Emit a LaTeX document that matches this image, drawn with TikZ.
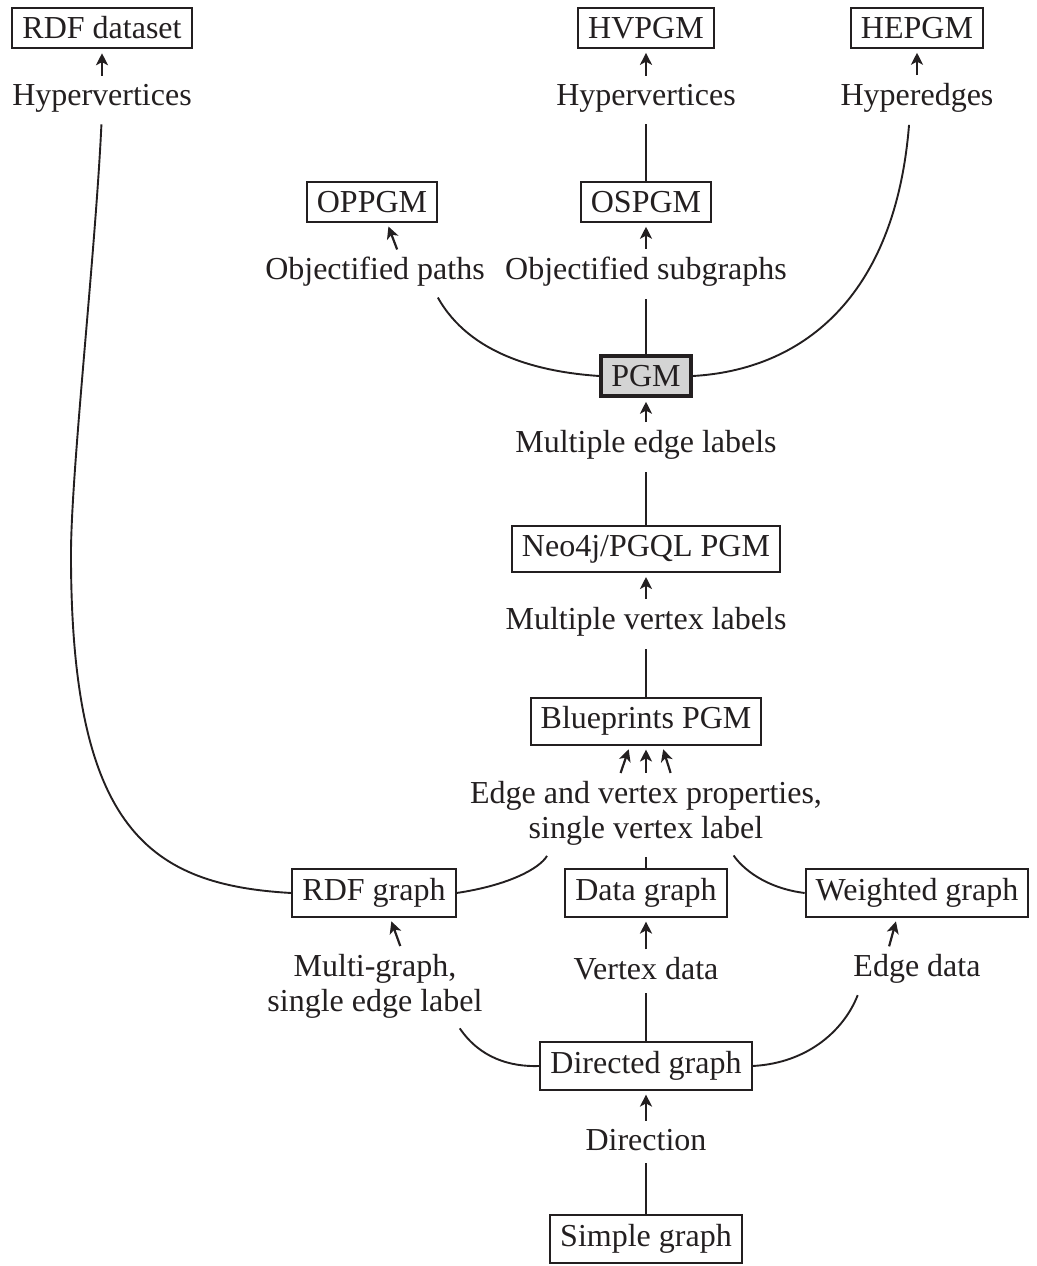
\documentclass[tikz,border=0pt]{standalone}
\usepackage{fontspec}
\setmainfont{Liberation Serif}
\usetikzlibrary{arrows.meta}
\definecolor{ink}{HTML}{231F20}
\definecolor{boxgray}{HTML}{D4D4D4}
\begin{document}
\begin{tikzpicture}[x=0.5pt,y=-0.5pt,
  every node/.style={font=\fontsize{16}{17.5}\selectfont, text=ink},
  box/.style={draw=ink, line width=1pt, inner xsep=5pt, inner ysep=4.5pt},
  mainbox/.style={box, line width=2pt, fill=boxgray},
  lab/.style={inner sep=0pt, align=center},
  link/.style={draw=ink, line width=0.95pt, shorten >=6pt},
  up/.style={draw=ink, line width=1.1pt, -{Stealth[length=6pt,width=6pt,inset=1.6pt]},
             shorten <=4pt, shorten >=2pt}]
\useasboundingbox (0,0) rectangle (1037,1266);

% models (boxes) and the features that lead to them (labels)
\node[box] (rdfds) at (102,28) {RDF dataset};
\node[box] (hvpgm) at (646,28) {HVPGM};
\node[box] (hepgm) at (917,28) {HEPGM};
\node[lab] (hv1) at (102,98) {Hypervertices};
\node[lab] (hv2) at (646,98) {Hypervertices};
\node[lab] (he) at (917,98) {Hyperedges};
\node[box] (oppgm) at (372,202) {OPPGM};
\node[box] (ospgm) at (646,202) {OSPGM};
\node[lab] (op) at (375,272) {Objectified paths};
\node[lab] (os) at (646,272) {Objectified subgraphs};
\node[mainbox] (pgm) at (646,376) {PGM};
\node[lab] (mel) at (646,445) {Multiple edge labels};
\node[box] (neo) at (646,549) {Neo4j/PGQL PGM};
\node[lab] (mvl) at (646,622) {Multiple vertex labels};
\node[box] (bp) at (646,721) {Blueprints PGM};
\node[lab] (evp) at (646,813) {Edge and vertex properties,\\single vertex label};
\node[box] (rdfg) at (374,893) {RDF graph};
\node[box] (datag) at (646,893) {Data graph};
\node[box] (wg) at (917,893) {Weighted graph};
\node[lab] (mg) at (375,986) {Multi-graph,\\single edge label};
\node[lab] (vd) at (646,969) {Vertex data};
\node[lab] (ed) at (917,969) {Edge data};
\node[box] (dg) at (646,1066) {Directed graph};
\node[lab] (dir) at (646,1140) {Direction};
\node[box] (sg) at (646,1239) {Simple graph};

% short arrows from a feature up to the model it yields
\draw[up] (hv1.north) -- (rdfds.south);
\draw[up] (hv2.north) -- (hvpgm.south);
\draw[up] (he.north) -- (hepgm.south);
\draw[up] ([xshift=12.5pt]op.north) -- ([xshift=7.5pt]oppgm.south);
\draw[up] (os.north) -- (ospgm.south);
\draw[up] (mel.north) -- (pgm.south);
\draw[up] (mvl.north) -- (neo.south);
\draw[up] ([xshift=-14pt]evp.north) -- ([xshift=-8pt]bp.south);
\draw[up] (evp.north) -- (bp.south);
\draw[up] ([xshift=13.5pt]evp.north) -- ([xshift=8pt]bp.south);
\draw[up] ([xshift=14pt]mg.north) -- ([xshift=8pt]rdfg.south);
\draw[up] (vd.north) -- (datag.south);
\draw[up] ([xshift=-15pt]ed.north) -- ([xshift=-10pt]wg.south);
\draw[up] (dir.north) -- (dg.south);

% lines from a model up to the features added on top of it
\draw[link] (sg.north) -- (dir.south);
\draw[link] (dg.north) -- (vd.south);
\draw[link] (dg.west) .. controls (510,1067) and (480,1058) .. ([xshift=39pt]mg.south);
\draw[link] (dg.east) .. controls (810,1063) and (845,1028) .. ([xshift=-27.5pt]ed.south);
\draw[link] (datag.north) -- (evp.south);
\draw[link] (rdfg.east) .. controls (510,885) and (540,868) .. ([xshift=-46.5pt]evp.south);
\draw[link] (wg.west) .. controls (765,888) and (742,868) .. ([xshift=40.5pt]evp.south);
\draw[link] (bp.north) -- (mvl.south);
\draw[link] (neo.north) -- (mel.south);
\draw[link] (pgm.west) .. controls (540,372) and (470,355) .. ([xshift=28.5pt]op.south);
\draw[link] (pgm.north) -- (os.south);
\draw[link] (pgm.east) .. controls (800,370) and (895,300) .. ([xshift=-3.5pt]he.south);
\draw[link] (ospgm.north) -- (hv2.south);
\draw[link] (rdfg.west) .. controls (150,885) and (72,830) .. (71,560)
                        .. controls (70,480) and (95,260) .. (hv1.south);
\end{tikzpicture}
\end{document}
